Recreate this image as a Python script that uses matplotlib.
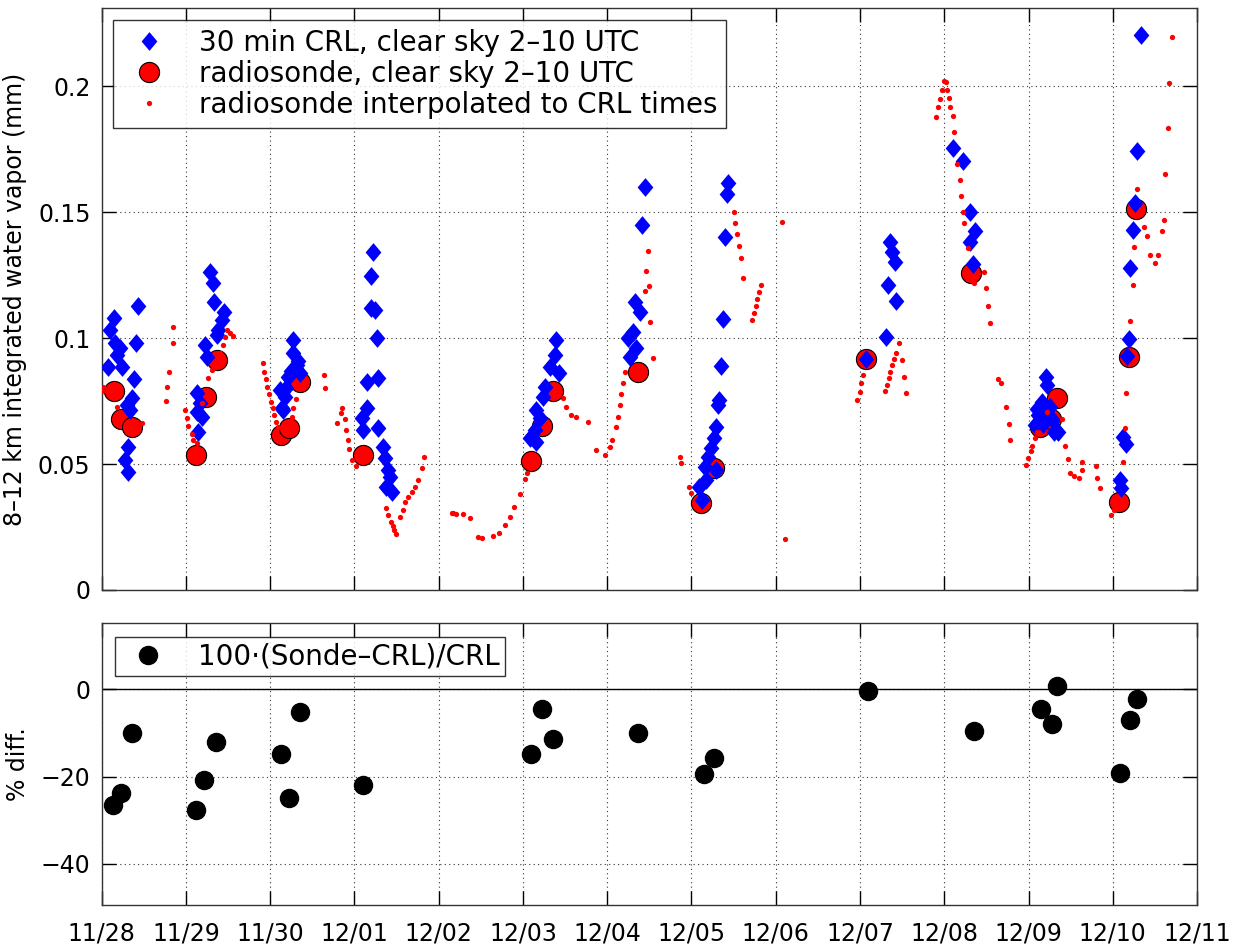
import matplotlib
matplotlib.use('Agg')
import matplotlib.pyplot as plt
import numpy as np

plt.rcParams['font.family'] = ['DejaVu Sans']

# time axis: days since 11/28 00 UTC
day_labels = ['11/28', '11/29', '11/30', '12/01', '12/02', '12/03', '12/04',
              '12/05', '12/06', '12/07', '12/08', '12/09', '12/10', '12/11']

# 30 min CRL, clear sky 2-10 UTC
crl_day = [0.078, 0.098, 0.146, 0.158, 0.178, 0.217, 0.237, 0.277, 0.296, 0.316, 0.316, 0.336, 0.356, 0.383, 0.407, 0.434,
           1.127, 1.127, 1.146, 1.166, 1.186, 1.225, 1.245, 1.285, 1.324, 1.336, 1.364, 1.383, 1.423, 1.451,
           2.115, 2.135, 2.155, 2.174, 2.19, 2.214, 2.25, 2.273, 2.273, 2.313, 2.33, 2.352,
           3.084, 3.103, 3.144, 3.144, 3.195, 3.195, 3.222, 3.242, 3.262, 3.281, 3.281, 3.34, 3.36, 3.38, 3.40, 3.42, 3.44,
           5.081, 5.140, 5.160, 5.160, 5.199, 5.239, 5.259, 5.318, 5.377, 5.389, 5.428,
           6.247, 6.267, 6.306, 6.326, 6.346, 6.386, 6.413, 6.445,
           7.09, 7.13, 7.157, 7.176, 7.196, 7.236, 7.264, 7.287, 7.295, 7.315, 7.327, 7.355, 7.374, 7.394, 7.421, 7.433,
           9.075, 9.304, 9.331, 9.36, 9.383, 9.41, 9.43,
           10.102, 10.22, 10.30, 10.309, 10.34, 10.36,
           11.075, 11.10, 11.115, 11.155, 11.17, 11.195, 11.208, 11.215, 11.255, 11.295, 11.30, 11.355,
           12.082, 12.102, 12.126, 12.154, 12.174, 12.193, 12.205, 12.242, 12.266, 12.293, 12.333]
crl_iwv = [0.0886, 0.1032, 0.1078, 0.0979, 0.0933, 0.0959, 0.0886, 0.0516, 0.0734, 0.0569, 0.0469, 0.0714, 0.0761, 0.0837, 0.0981, 0.1127,
           0.0781, 0.0708, 0.0628, 0.0741, 0.0688, 0.0972, 0.0926, 0.1263, 0.1217, 0.1144, 0.1012, 0.1032, 0.1071, 0.1104,
           0.0794, 0.0721, 0.0714, 0.0767, 0.0800, 0.0847, 0.0870, 0.0992, 0.0939, 0.0893, 0.0910, 0.0860,
           0.0681, 0.0635, 0.0827, 0.0721, 0.1246, 0.1118, 0.1343, 0.1111, 0.0999, 0.0840, 0.0642, 0.0569, 0.0523, 0.0410, 0.0476, 0.0450, 0.0390,
           0.0602, 0.0635, 0.0714, 0.0589, 0.0681, 0.0767, 0.0807, 0.0886, 0.0933, 0.0992, 0.0860,
           0.0999, 0.0926, 0.1025, 0.1144, 0.0959, 0.1104, 0.1448, 0.1600,
           0.0410, 0.0357, 0.0489, 0.0437, 0.0529, 0.0562, 0.0602, 0.0648, 0.0476, 0.0734, 0.0754, 0.0890, 0.1075, 0.1402, 0.1571, 0.1616,
           0.0917, 0.1003, 0.1210, 0.1382, 0.1343, 0.1303, 0.1147,
           0.1755, 0.1702, 0.1382, 0.1501, 0.1294, 0.1426,
           0.0653, 0.0720, 0.0693, 0.0746, 0.0660, 0.0700, 0.0847, 0.0813, 0.0726, 0.0673, 0.0626, 0.0626,
           0.0438, 0.0405, 0.0606, 0.0579, 0.0927, 0.0998, 0.1276, 0.1427, 0.1537, 0.1742, 0.2204]

# radiosonde, clear sky 2-10 UTC
sonde_day = [0.146, 0.233, 0.354, 1.115, 1.237, 1.364, 2.127, 2.222, 2.351, 3.103,
             5.093, 5.222, 5.357, 6.371, 7.117, 7.264, 9.075, 10.32,
             11.135, 11.27, 11.335, 12.074, 12.193, 12.274]
sonde_iwv = [0.0791, 0.0677, 0.0646, 0.0534, 0.0767, 0.0913, 0.0615, 0.0642, 0.0827, 0.0536,
             0.0513, 0.0651, 0.0791, 0.0866, 0.0347, 0.0483, 0.0917, 0.1257,
             0.0646, 0.0680, 0.0763, 0.0351, 0.0923, 0.1511]

# radiosonde interpolated to CRL times
interp_day = [0.0, 0.019, 0.178, 0.474, 0.763, 0.778, 0.802, 0.842, 0.850,
              0.988, 1.016, 1.028, 1.067, 1.087, 1.134, 1.186, 1.237, 1.265, 1.305, 1.344, 1.403, 1.435, 1.463, 1.490, 1.522, 1.554,
              1.910, 1.925, 1.945, 1.957, 1.988, 2.005, 2.028, 2.044, 2.068, 2.095, 2.254, 2.265, 2.305, 2.637, 2.653,
              2.795, 2.835, 2.847, 2.886, 2.898, 2.926, 2.938, 2.966, 3.013,
              3.373, 3.40, 3.428, 3.452, 3.467, 3.491, 3.539, 3.571, 3.598, 3.637, 3.677, 3.717, 3.756, 3.796, 3.827,
              4.152, 4.164, 4.203, 4.29, 4.369, 4.467, 4.519, 4.645, 4.717, 4.784, 4.843, 4.891, 4.962, 5.021, 5.049,
              5.476, 5.516, 5.575, 5.626, 5.772, 5.872, 5.97,
              6.03, 6.062, 6.109, 6.128, 6.148, 6.168, 6.188, 6.207, 6.445, 6.457, 6.484, 6.496, 6.512, 6.543,
              6.868, 6.88, 6.97, 6.999,
              7.501, 7.513, 7.544, 7.560, 7.587, 7.611, 7.722, 7.738, 7.762, 7.782, 7.801, 7.821, 8.074, 8.106,
              8.963, 8.995, 9.015, 9.035, 9.30, 9.324, 9.343, 9.36, 9.383, 9.402, 9.431, 9.462, 9.502, 9.517, 9.541,
              9.905, 9.929, 9.944, 9.972, 9.992, 10.024, 10.031, 10.055, 10.071, 10.102, 10.11, 10.149, 10.181, 10.201,
              10.22, 10.24, 10.28, 10.348, 10.466, 10.49, 10.517, 10.537,
              10.636, 10.676, 10.735, 10.767, 10.784,
              10.968, 10.995, 11.024, 11.047, 11.076, 11.103, 11.215, 11.395, 11.436, 11.463, 11.494, 11.542, 11.594,
              11.635, 11.635, 11.795, 11.814, 11.843,
              11.983, 12.015, 12.123, 12.147, 12.162, 12.205, 12.234, 12.246, 12.286, 12.374, 12.406, 12.446, 12.502,
              12.534, 12.585, 12.613, 12.625, 12.654, 12.666, 12.701]
interp_iwv = [0.0791, 0.0807, 0.0727, 0.0661, 0.0750, 0.0807, 0.0866, 0.0981, 0.1042,
              0.0714, 0.0681, 0.0651, 0.0619, 0.0595, 0.0582, 0.0741, 0.0794, 0.0840, 0.0873, 0.0900, 0.0939, 0.0972, 0.1005, 0.1032, 0.1019, 0.1008,
              0.0900, 0.0866, 0.0836, 0.0807, 0.0778, 0.0747, 0.0721, 0.0694, 0.0668, 0.0648, 0.0688, 0.0721, 0.0757, 0.0853, 0.0800,
              0.0661, 0.0701, 0.0721, 0.0679, 0.0635, 0.0595, 0.0558, 0.0516, 0.0492,
              0.0324, 0.0298, 0.0271, 0.0254, 0.0238, 0.0222, 0.0291, 0.0317, 0.0350, 0.0370, 0.0390, 0.0410, 0.0437, 0.0483, 0.0529,
              0.0307, 0.0304, 0.0302, 0.0300, 0.0284, 0.0212, 0.0205, 0.0214, 0.0225, 0.0258, 0.0291, 0.0328, 0.0381, 0.0439, 0.0466,
              0.0761, 0.0727, 0.0694, 0.0688, 0.0668, 0.0556, 0.0536,
              0.0569, 0.0595, 0.0646, 0.0688, 0.0734, 0.0778, 0.0823, 0.0866, 0.1188, 0.1267, 0.1346, 0.1208, 0.1062, 0.0922,
              0.0527, 0.0503, 0.0410, 0.0384,
              0.1501, 0.1458, 0.1413, 0.1365, 0.1317, 0.1239, 0.1071, 0.1100, 0.1127, 0.1155, 0.1184, 0.1210, 0.1462, 0.0202,
              0.0754, 0.0787, 0.0820, 0.0853, 0.0791, 0.0813, 0.0840, 0.0866, 0.0893, 0.0915, 0.0939, 0.0979, 0.0913, 0.0847, 0.0783,
              0.1878, 0.1915, 0.1947, 0.1984, 0.2021, 0.2017, 0.1984, 0.1951, 0.1918, 0.1882, 0.1819, 0.1690, 0.1627, 0.1565,
              0.1501, 0.1455, 0.1356, 0.1219, 0.1263, 0.1197, 0.1127, 0.1061,
              0.0836, 0.0820, 0.0726, 0.0659, 0.0596,
              0.0498, 0.0525, 0.0552, 0.0572, 0.0602, 0.0626, 0.0706, 0.0679, 0.0572, 0.0519, 0.0465, 0.0454, 0.0445,
              0.0476, 0.0508, 0.0492, 0.0445, 0.0405,
              0.0297, 0.0317, 0.0508, 0.0642, 0.0783, 0.1068, 0.1211, 0.1360, 0.1591, 0.1440, 0.1403, 0.1330, 0.1296,
              0.1330, 0.1426, 0.1470, 0.1651, 0.1833, 0.2013, 0.2194]

# 100*(Sonde-CRL)/CRL
diff_day = [0.138, 0.233, 0.354, 1.115, 1.218, 1.357, 2.127, 2.222, 2.351, 3.103,
            5.093, 5.222, 5.351, 6.371, 7.149, 7.27, 9.095, 10.349,
            11.145, 11.274, 11.343, 12.087, 12.208, 12.286]
diff_pct = [-26.5, -23.8, -10.1, -27.6, -20.8, -12.0, -14.8, -24.8, -5.1, -21.9,
            -14.8, -4.6, -11.4, -9.9, -19.5, -15.8, -0.3, -9.5,
            -4.5, -7.9, 0.8, -19.2, -7.0, -2.1]

# slightly tall diamond, like matlab's 'd'
tall_diamond = [(0, 1), (0.84, 0), (0, -1), (-0.84, 0), (0, 1)]

fig = plt.figure(figsize=(12.37, 9.47), dpi=100)
ax1 = fig.add_axes([0.0822, 0.377, 0.8855, 0.6146])
ax2 = fig.add_axes([0.0822, 0.0444, 0.8855, 0.2977])

h_crl, = ax1.plot(crl_day, crl_iwv, linestyle='none', marker=tall_diamond, color='#0000ff',
                  markersize=13.5, markeredgewidth=0, zorder=3,
                  label='30 min CRL, clear sky 2\u201310 UTC')
h_son, = ax1.plot(sonde_day, sonde_iwv, 'o', markerfacecolor='#ff0000', markeredgecolor='k', markeredgewidth=0.8,
                  markersize=14.5, zorder=2, label='radiosonde, clear sky 2\u201310 UTC')
h_int, = ax1.plot(interp_day, interp_iwv, 'o', color='#ff0000', markersize=3.8, markeredgewidth=0, zorder=4,
                  label='radiosonde interpolated to CRL times')

ax2.axhline(0, color='k', linewidth=1.0, zorder=1)
ax2.plot(diff_day, diff_pct, 'o', color='k', markersize=13, zorder=3,
         label='100\u00b7(Sonde\u2013CRL)/CRL')

for ax in (ax1, ax2):
    ax.set_xlim(0, 13)
    ax.set_xticks(np.arange(len(day_labels)))
    ax.grid(True, linestyle=(0, (1, 3)), color='k', linewidth=0.8, alpha=0.8)
    ax.tick_params(direction='in', length=10, width=1, top=True, right=True, labelsize=17, pad=8)
    for s in ax.spines.values():
        s.set_linewidth(1.0)
        s.set_color('#333333')

ax1.set_ylim(0, 0.231)
ax1.set_yticks([0, 0.05, 0.1, 0.15, 0.2])
ax1.set_yticklabels(['0', '0.05', '0.1', '0.15', '0.2'])
ax1.set_xticklabels([])
ax1.set_ylabel('8\u201312 km integrated water vapor (mm)', fontsize=17, labelpad=8)

ax2.set_ylim(-49.4, 15.2)
ax2.set_yticks([-40, -20, 0])
ax2.set_yticklabels(['\u221240', '\u221220', '0'])
ax2.set_xticklabels(day_labels)
ax2.tick_params(axis='x', pad=12)
ax2.set_ylabel('% diff.', fontsize=17, labelpad=8)

leg1 = ax1.legend(handles=[h_crl, h_son, h_int], loc='upper left', bbox_to_anchor=(0.01, 0.979),
                  fontsize=20, frameon=True, fancybox=False, edgecolor='k', borderaxespad=0,
                  handlelength=2.0, handletextpad=0.8, labelspacing=0.12, borderpad=0.3)
leg1.get_frame().set_linewidth(1.0)
leg2 = ax2.legend(loc='upper left', bbox_to_anchor=(0.012, 0.95), fontsize=20, frameon=True,
                  fancybox=False, edgecolor='k', borderaxespad=0, handlelength=2.0,
                  handletextpad=0.8, borderpad=0.2)
leg2.get_frame().set_linewidth(1.0)

fig.savefig('out.png', dpi=100)
